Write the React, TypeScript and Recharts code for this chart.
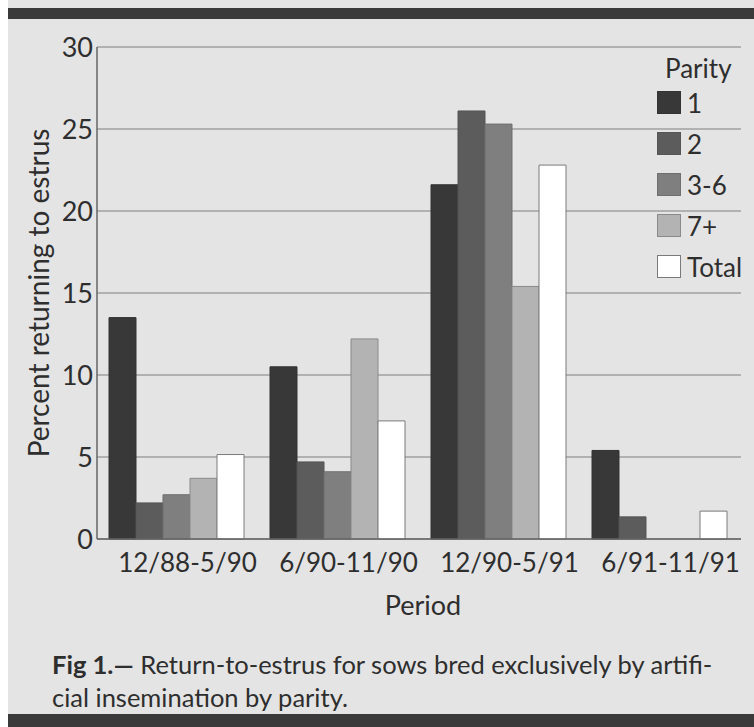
import { Bar, BarChart, CartesianGrid, XAxis, YAxis } from "recharts";

const periods = ["12/88-5/90", "6/90-11/90", "12/90-5/91", "6/91-11/91"];
const parity1 = [13.5, 10.5, 21.6, 5.4];
const parity2 = [2.2, 4.7, 26.1, 1.35];
const parity3to6 = [2.7, 4.1, 25.3, 0];
const parity7plus = [3.7, 12.2, 15.4, 0];
const total = [5.15, 7.2, 22.8, 1.7];
const yTicks = [0, 5, 10, 15, 20, 25, 30];

const series = [
    { key: "p1", name: "1", fill: "#383838", stroke: "#333" },
    { key: "p2", name: "2", fill: "#5c5c5c", stroke: "#555" },
    { key: "p36", name: "3-6", fill: "#7f7f7f", stroke: "#6f6f6f" },
    { key: "p7", name: "7+", fill: "#b3b3b3", stroke: "#8a8a8a" },
    { key: "total", name: "Total", fill: "#ffffff", stroke: "#7a7a7a" },
];

const data = periods.map((period, i) => ({
    period,
    p1: parity1[i],
    p2: parity2[i],
    p36: parity3to6[i],
    p7: parity7plus[i],
    total: total[i],
}));

const FONT = "Lato, 'Open Sans', sans-serif";
const INK = "#2e2e2e";

function ParityLegend() {
    return (
        <div style={{ position: "absolute", left: 649, top: 54, fontFamily: FONT, color: INK, fontSize: 26 }}>
            <div style={{ marginLeft: 8, lineHeight: "28px" }}>Parity</div>
            {series.map((s) => (
                <div key={s.key} style={{ display: "flex", alignItems: "center", height: 41 }}>
                    <span
                        style={{
                            display: "inline-block",
                            width: 24,
                            height: 23,
                            background: s.fill,
                            border: `1px solid ${s.stroke}`,
                            boxSizing: "border-box",
                            marginRight: 6,
                        }}
                    />
                    <span>{s.name}</span>
                </div>
            ))}
        </div>
    );
}

export default function App() {
    return (
        <div style={{ position: "absolute", left: 0, top: 0, width: 754, height: 727, background: "#fff" }}>
            <div style={{ position: "absolute", left: 8, top: 0, width: 746, height: 727, background: "#e4e4e4" }}>
                <div style={{ position: "absolute", left: 0, top: 8, width: 746, height: 11, background: "#3a3a3a" }} />
                <div style={{ position: "absolute", left: 0, top: 0 }}>
                    <BarChart
                        width={746}
                        height={630}
                        data={data}
                        margin={{ top: 47, right: 13, left: 0, bottom: 21 }}
                        barCategoryGap={12}
                        barGap={0}
                    >
                        <CartesianGrid vertical={false} stroke="#a0a0a0" strokeWidth={1.5} />
                        <XAxis
                            dataKey="period"
                            height={70}
                            tickLine={false}
                            axisLine={{ stroke: "#666", strokeWidth: 1.5 }}
                            tickMargin={9}
                            tick={{ fontSize: 26, fill: INK, fontFamily: FONT, dx: 10 }}
                            label={{ value: "Period", position: "insideBottom", dx: 4, offset: -6, fontSize: 27, fill: INK, fontFamily: FONT }}
                        />
                        <YAxis
                            width={89}
                            domain={[0, 30]}
                            ticks={yTicks}
                            tickLine={false}
                            tickSize={3}
                            tickMargin={1}
                            axisLine={{ stroke: "#666", strokeWidth: 1.5 }}
                            tick={{ fontSize: 27, fill: INK, fontFamily: FONT }}
                            label={{ value: "Percent returning to estrus", angle: -90, position: "insideLeft", offset: 31, fontSize: 28, fill: INK, fontFamily: FONT, style: { textAnchor: "middle" } }}
                        />
                        {series.map((s) => (
                            <Bar
                                key={s.key}
                                dataKey={s.key}
                                name={s.name}
                                fill={s.fill}
                                stroke={s.stroke}
                                strokeWidth={1}
                                isAnimationActive={false}
                            />
                        ))}
                    </BarChart>
                </div>
                <ParityLegend />
                <div
                    style={{
                        position: "absolute",
                        left: 44,
                        top: 648,
                        width: 700,
                        fontFamily: FONT,
                        fontSize: 25.5,
                        lineHeight: "33px",
                        color: INK,
                        whiteSpace: "nowrap",
                    }}
                >
                    <b>Fig 1.—</b> Return-to-estrus for sows bred exclusively by artifi-
                    <br />
                    cial insemination by parity.
                </div>
                <div style={{ position: "absolute", left: 0, top: 714, width: 746, height: 13, background: "#3a3a3a" }} />
            </div>
        </div>
    );
}
